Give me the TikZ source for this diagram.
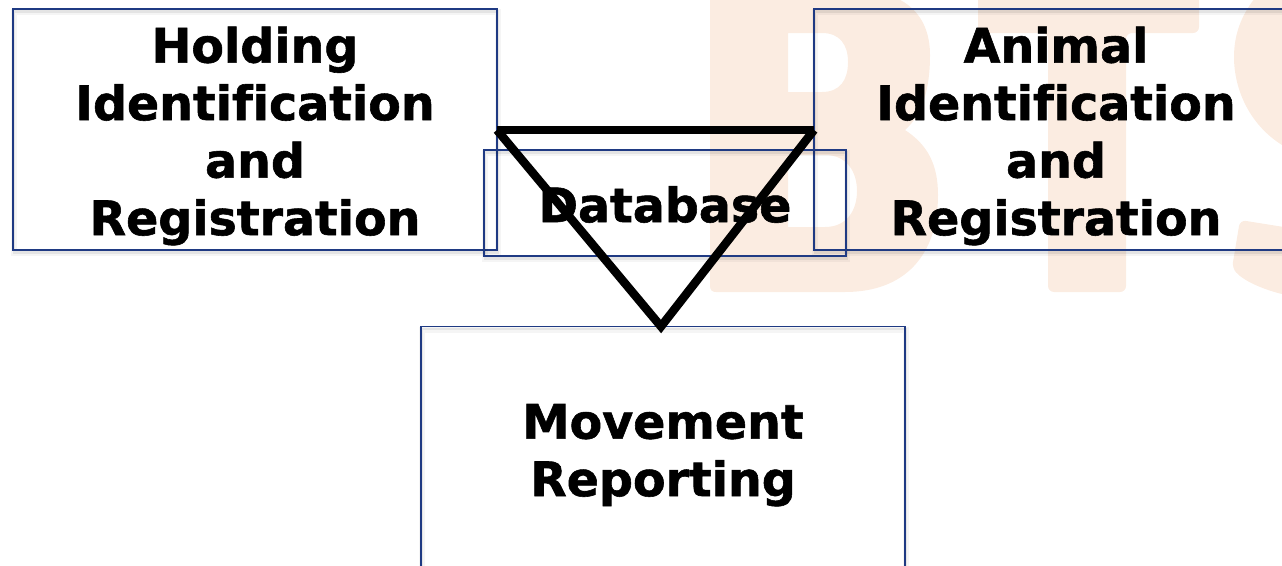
\documentclass[tikz,border=0pt]{standalone}
\usepackage{fontspec}
\setmainfont{DejaVu Sans}[Ligatures=NoCommon,BoldFeatures={FakeBold=1.2,Ligatures=NoCommon}]
\usetikzlibrary{calc}
\definecolor{boxblue}{HTML}{1F3A83}
\definecolor{wm}{HTML}{FBECE1}
\newcommand{\topadj}[1]{\rule{0pt}{#1pt}}
\tikzset{
  x=1pt,y=-1pt,
  boxshadow/.style={preaction={draw=black,draw opacity=.04,line width=6pt,transform canvas={shift={(1pt,-3pt)}}},
                    preaction={draw=black,draw opacity=.07,line width=2.5pt,transform canvas={shift={(1pt,-2.5pt)}}}},
  infobox/.style={draw=boxblue,line width=1.3pt,boxshadow,rectangle,inner sep=0pt,outer sep=0pt,minimum width=484pt,minimum height=241pt,
     align=center,font=\fontsize{47.5}{57.5}\selectfont\bfseries,text=black},
  tri/.style={line width=8.5pt,black,line join=miter,miter limit=10},
  wmfill/.style={fill=wm,draw=none}
}
\begin{document}
\begin{tikzpicture}
\useasboundingbox (0,0) rectangle (1282,565);
% watermark
\path[wmfill,even odd rule] (710,-10) -- (860,-10)
   .. controls (905,-8) and (930,15) .. (930,55)
   .. controls (930,90) and (922,115) .. (905,130)
   .. controls (928,145) and (938,165) .. (938,195)
   .. controls (938,255) and (905,292) .. (845,292)
   -- (716,292) .. controls (712,292) and (710,290) .. (710,286) -- cycle
   (788,33) -- (822,33) .. controls (840,33) and (848,45) .. (848,62) .. controls (848,80) and (840,92) .. (822,92) -- (788,92) -- cycle
   (788,155) -- (825,155) .. controls (847,155) and (857,172) .. (857,191) .. controls (857,210) and (847,227) .. (825,227) -- (788,227) -- cycle;
\path[wmfill,rounded corners=6pt] (978,-10) -- (1199,-10) -- (1199,33) -- (1126,33) -- (1126,292) -- (1048,292) -- (1048,33) -- (978,33) -- cycle;
\path[wmfill] (1262,-10) .. controls (1243,10) and (1234,32) .. (1234,57)
   .. controls (1234,90) and (1250,125) .. (1282,145) -- (1290,145) -- (1290,-10) -- cycle;
\path[wmfill,rounded corners=6pt] (1240,220) -- (1290,228) -- (1290,296) .. controls (1265,290) and (1245,282) .. (1232,268) -- cycle;
% boxes
\node[infobox] (holding) at (255,129.5) {\topadj{49}Holding\\Identification\\and\\Registration};
\node[infobox] (animal) at (1056,129.5) {\topadj{49}Animal\\Identification\\and\\Registration};
\node[infobox,minimum width=362pt,minimum height=106pt] (db) at (665,203) {\topadj{39}Database};
\node[infobox] (move) at (663,447) {\topadj{51}Movement\\Reporting};
% triangle
\coordinate (tl) at ($(holding.east)+(0,0.5)$);
\coordinate (tr) at ($(animal.west)+(0,0.5)$);
\coordinate (ap) at ($(move.north)+(-2,0)$);
\draw[tri] (tl) -- (tr);
\draw[tri] (tl) -- (ap) -- (tr);
\end{tikzpicture}
\end{document}
